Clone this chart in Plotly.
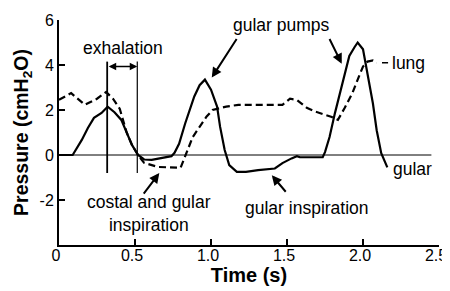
import plotly.graph_objects as go

# Gular pressure (solid)
gular_t = [0, 0.09, 0.15, 0.19, 0.23, 0.28, 0.32, 0.365, 0.41, 0.445, 0.48, 0.52, 0.56, 0.61,
           0.675, 0.74, 0.76, 0.79, 0.83, 0.86, 0.89, 0.925, 0.96, 1.0, 1.04, 1.06, 1.09, 1.12,
           1.17, 1.23, 1.31, 1.42, 1.47, 1.53, 1.565, 1.585, 1.735, 1.75, 1.78, 1.815, 1.85,
           1.88, 1.91, 1.945, 1.965, 2.0, 2.03, 2.065, 2.09, 2.12, 2.16]
gular_p = [0, 0, 0.67, 1.2, 1.65, 1.87, 2.15, 1.9, 1.56, 0.98, 0.45, 0, -0.2, -0.22,
           -0.15, -0.05, 0.1, 0.5, 1.4, 2.0, 2.6, 3.1, 3.35, 2.9, 2.15, 1.25, 0.22, -0.45,
           -0.75, -0.75, -0.67, -0.6, -0.36, -0.15, -0.05, -0.1, -0.1, 0.13, 0.8, 1.85, 2.77,
           3.65, 4.4, 4.8, 5.0, 4.7, 3.65, 2.3, 1.1, 0.08, -0.55]

# Lung pressure (dashed)
lung_t = [0, 0.08, 0.17, 0.25, 0.31, 0.355, 0.4, 0.445, 0.48, 0.52, 0.56, 0.65, 0.8, 0.84,
          0.88, 0.925, 0.97, 1.01, 1.1, 1.18, 1.47, 1.52, 1.565, 1.63, 1.69, 1.79, 1.835,
          1.88, 1.93, 1.965, 2.0, 2.03, 2.065, 2.09]
lung_p = [2.45, 2.75, 2.23, 2.5, 2.8, 2.5, 2.05, 1.0, 0.45, 0, -0.35, -0.53, -0.57, 0.1,
          0.8, 1.25, 1.7, 2.0, 2.15, 2.23, 2.23, 2.5, 2.45, 2.1, 1.92, 1.7, 1.56,
          2.1, 2.75, 3.35, 3.93, 4.15, 4.2, 4.1]

x_ticks = [0, 0.5, 1.0, 1.5, 2.0, 2.5]
x_tick_labels = ["0", "0.5", "1.0", "1.5", "2.0", "2.5"]
y_ticks = [-2, 0, 2, 4, 6]
y_tick_labels = ["-2", "0", "2", "4", "6"]

exhale_start, exhale_end = 0.317, 0.515

FONT = "Liberation Sans, Arial, Helvetica, sans-serif"

fig = go.Figure()
fig.add_trace(go.Scatter(x=gular_t, y=gular_p, mode="lines",
                         line=dict(color="black", width=2.2), showlegend=False))
fig.add_trace(go.Scatter(x=lung_t, y=lung_p, mode="lines",
                         line=dict(color="black", width=2.2, dash="7px,4px"), showlegend=False))

shapes = [
    dict(type="line", xref="x", yref="y", x0=0, x1=2.45, y0=0, y1=0,
         line=dict(color="black", width=1)),
    dict(type="line", xref="x", yref="y", x0=exhale_start, x1=exhale_start, y0=-0.8, y1=4.15,
         line=dict(color="black", width=1.8)),
    dict(type="line", xref="x", yref="y", x0=exhale_end, x1=exhale_end, y0=-0.8, y1=4.15,
         line=dict(color="black", width=1.2)),
    dict(type="line", xref="x", yref="y", x0=2.125, x1=2.165, y0=4.1, y1=4.1,
         line=dict(color="black", width=1.5)),
]

tf = dict(family=FONT, size=17.5, color="black")
annotations = [
    dict(x=0.42, y=4.75, xref="x", yref="y", text="exhalation", showarrow=False, font=tf),
    dict(x=exhale_end, y=3.93, ax=exhale_start, ay=3.93, xref="x", yref="y", axref="x", ayref="y",
         text="", showarrow=True, arrowhead=2, arrowside="end+start", arrowsize=1, arrowwidth=1.5,
         arrowcolor="black"),
    dict(x=1.465, y=5.8, xref="x", yref="y", text="gular pumps", showarrow=False, font=tf),
    dict(x=1.005, y=3.44, ax=1.175, ay=5.22, xref="x", yref="y", axref="x", ayref="y",
         text="", showarrow=True, arrowhead=2, arrowsize=1, arrowwidth=2, arrowcolor="black"),
    dict(x=1.86, y=4.06, ax=1.775, ay=5.22, xref="x", yref="y", axref="x", ayref="y",
         text="", showarrow=True, arrowhead=2, arrowsize=1, arrowwidth=2, arrowcolor="black"),
    dict(x=2.175, y=4.1, xref="x", yref="y", text="lung", showarrow=False, xanchor="left", font=tf),
    dict(x=2.185, y=-0.62, xref="x", yref="y", text="gular", showarrow=False, xanchor="left", font=tf),
    dict(x=0.59, y=-2.6, xref="x", yref="y", text="costal and gular<br>inspiration",
         showarrow=False, font=tf),
    dict(x=0.66, y=-0.8, ax=0.55, ay=-1.78, xref="x", yref="y", axref="x", ayref="y",
         text="", showarrow=True, arrowhead=2, arrowsize=1, arrowwidth=2, arrowcolor="black"),
    dict(x=1.63, y=-2.37, xref="x", yref="y", text="gular inspiration", showarrow=False, font=tf),
    dict(x=1.4, y=-0.9, ax=1.5, ay=-1.7, xref="x", yref="y", axref="x", ayref="y",
         text="", showarrow=True, arrowhead=2, arrowsize=1, arrowwidth=2, arrowcolor="black"),
]

# The page body adds an 8px offset; margins compensate so the plot area sits where the reference's does.
fig.update_layout(
    template="none",
    width=450, height=291,
    margin=dict(l=51, r=19, t=12, b=54),
    paper_bgcolor="white", plot_bgcolor="white",
    font=dict(family=FONT, size=16, color="black"),
    shapes=shapes, annotations=annotations,
    xaxis=dict(range=[0, 2.5], tickvals=x_ticks, ticktext=x_tick_labels, automargin=False,
               showgrid=False, zeroline=False, showline=True, linecolor="black", linewidth=2,
               ticks="inside", ticklen=6, tickwidth=2, tickcolor="black",
               tickfont=dict(size=16), ticklabelshift=-3, ticklabelstandoff=-5,
               ticklabeloverflow="allow",
               title=dict(text="<b>Time (s)</b>", font=dict(size=20), standoff=1)),
    yaxis=dict(range=[-4, 6], tickvals=y_ticks, ticktext=y_tick_labels, automargin=False,
               showgrid=False, zeroline=False, showline=True, linecolor="black", linewidth=2,
               ticks="inside", ticklen=6, tickwidth=2, tickcolor="black",
               tickfont=dict(size=16),
               title=dict(text="<b>Pressure (cmH<sub>2</sub>O)</b>", font=dict(size=19.5), standoff=6)),
)

fig.write_html("out.html")
